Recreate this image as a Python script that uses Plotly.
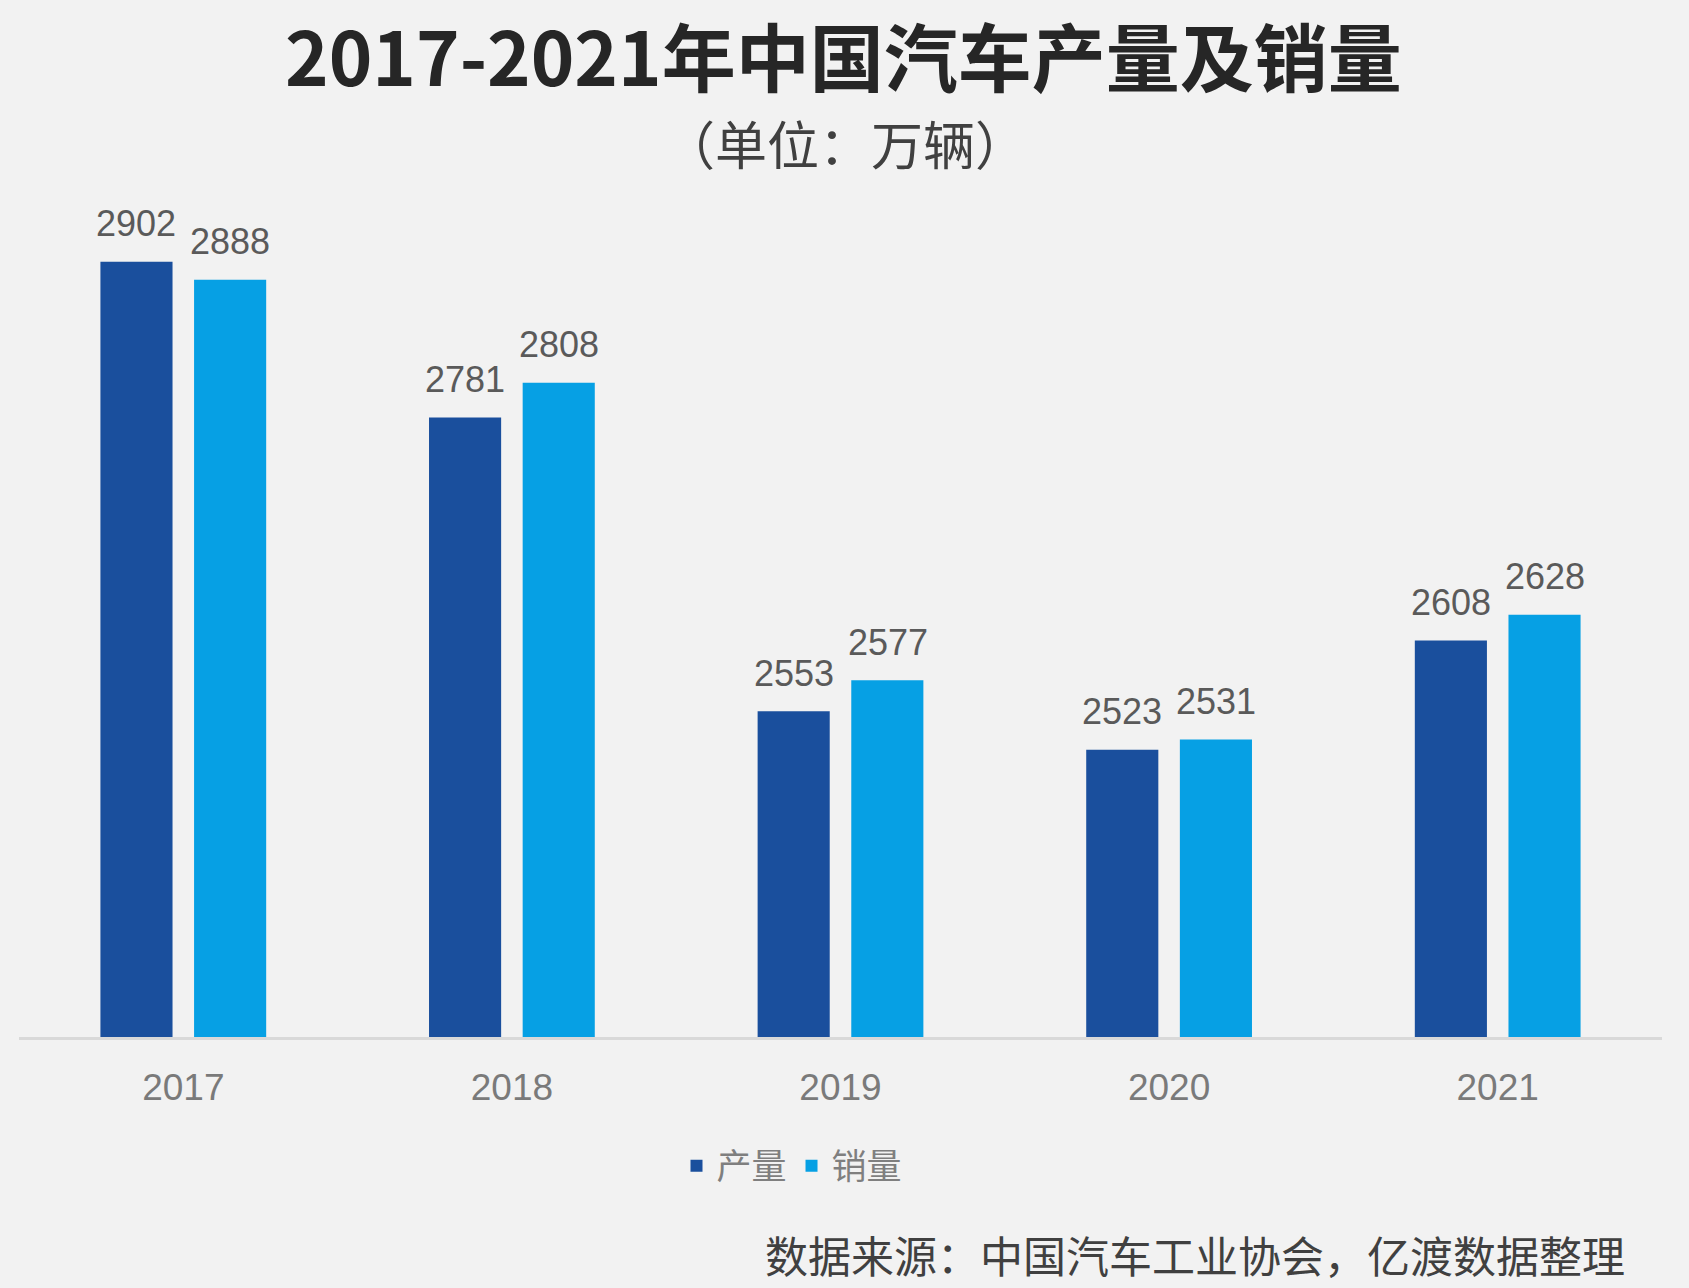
import plotly.graph_objects as go

years = ["2017", "2018", "2019", "2020", "2021"]
production = [2902, 2781, 2553, 2523, 2608]
sales = [2888, 2808, 2577, 2531, 2628]
series_names = ["产量", "销量"]

title_text = "2017-2021年中国汽车产量及销量"
subtitle_text = "（单位：万辆）"
source_text = "数据来源：中国汽车工业协会，亿渡数据整理"

DARK = "#1a4f9d"
LIGHT = "#06a0e4"
BG = "#f2f2f2"
FONT = "Noto Sans CJK SC, Liberation Sans, Arial, sans-serif"

fig = go.Figure()
fig.add_trace(go.Bar(x=years, y=production, name=series_names[0],
                     marker=dict(color=DARK, line=dict(width=0))))
fig.add_trace(go.Bar(x=years, y=sales, name=series_names[1],
                     marker=dict(color=LIGHT, line=dict(width=0))))

# value labels above bars (category index positions on the category axis)
for vals, shift in ((production, -47), (sales, 47)):
    for i, v in enumerate(vals):
        fig.add_annotation(x=i, y=v, xref="x", yref="y", text=str(v),
                           showarrow=False, xshift=shift, yshift=38,
                           font=dict(family="Liberation Sans, Arial", size=36, color="#5a5a5a"))

L, R, T, B = 19, 27, 200, 251
W, H = 1689, 1288
pw, ph = W - L - R, H - T - B


def px(xp):
    return (xp - L) / pw


def py(yp):
    return (H - yp - B) / ph


fig.add_annotation(x=px(843), y=py(53), xref="paper", yref="paper", text="<b>" + title_text + "</b>",
                   showarrow=False, font=dict(family=FONT, size=74, color="#262626"),
                   xanchor="center", yanchor="middle")
fig.add_annotation(x=px(845), y=py(142), xref="paper", yref="paper", text=subtitle_text,
                   showarrow=False, font=dict(family=FONT, size=52, color="#404040"),
                   xanchor="center", yanchor="middle")
fig.add_annotation(x=px(763), y=py(1287), xref="paper", yref="paper", text=source_text,
                   showarrow=False, font=dict(family=FONT, size=43, color="#404040"),
                   xanchor="left", yanchor="bottom")

fig.update_layout(
    width=W, height=H,
    margin=dict(l=L, r=R, t=T, b=B, pad=0),
    paper_bgcolor=BG, plot_bgcolor=BG,
    barmode="group", bargap=0.43, bargroupgap=0.23,
    font=dict(family=FONT, color="#7f7f7f"),
    showlegend=True,
    legend=dict(orientation="h", x=px(792), y=py(1166),
                xanchor="center", yanchor="middle",
                font=dict(family=FONT, size=35, color="#7f7f7f"),
                itemwidth=30, bgcolor="rgba(0,0,0,0)", traceorder="normal"),
    xaxis=dict(type="category", range=[-0.5, len(years) - 0.5],
               showline=True, linecolor="#d9d9d9", linewidth=3, showgrid=False,
               ticks="", ticklabelstandoff=16,
               tickfont=dict(family="Liberation Sans, Arial", size=37, color="#7a7a7a")),
    yaxis=dict(range=[2300, 2950], visible=False, showgrid=False, zeroline=False),
)

fig.write_html("out.html")
